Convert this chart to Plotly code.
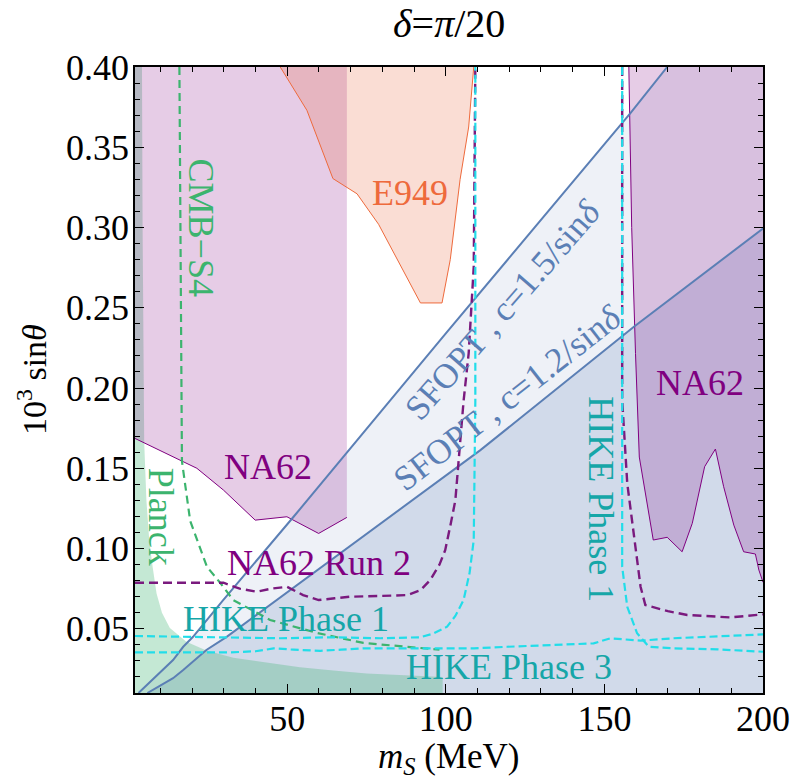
import plotly.graph_objects as go

FONT = "Liberation Serif"

# ---- data (m_S in MeV, 10^3 sin(theta)) ----
# SFOPT boundaries
sfopt15_m = [3.1, 9.8, 14.0, 17.2, 20.3, 29.8, 52.0, 100.0, 158.2, 169.8]
sfopt15_s = [0.010, 0.0223, 0.0305, 0.0388, 0.045, 0.0679, 0.1198, 0.234, 0.3713, 0.40]
sfopt12_m = [5.9, 14.0, 17.2, 24.5, 30.9, 46.6, 80.0, 110.9, 159.2, 200.0]
sfopt12_s = [0.010, 0.0192, 0.0243, 0.0368, 0.045, 0.0679, 0.1163, 0.1613, 0.238, 0.2994]

# Planck excluded region boundary
planck_m = [4.2, 4.4, 4.6, 4.9, 5.6, 6.5, 7.6, 8.8, 10.5, 13.0, 18.2, 24.5, 33.0, 43.5,
            54.0, 64.5, 75.0, 87.0, 99.0, 99.0]
planck_s = [0.40, 0.30, 0.22, 0.166, 0.13, 0.105, 0.088, 0.072, 0.060, 0.0505, 0.042, 0.0365,
            0.032, 0.0288, 0.026, 0.024, 0.0222, 0.021, 0.020, 0.010]

# NA62 excluded regions
na62a_m = [2.0, 17.3, 21.5, 29.9, 39.9, 49.9, 59.9, 68.8]
na62a_s = [0.1686, 0.154, 0.150, 0.1364, 0.1177, 0.1198, 0.1094, 0.1194]
na62a_mmax = 68.8
na62b_m = [157.7, 158.6, 159.8, 160.3, 161.0, 165.4, 169.8, 174.5, 177.7, 181.6, 185.0,
           187.6, 190.8, 193.9, 197.6, 198.7, 200.0]
na62b_s = [0.40, 0.30, 0.2215, 0.192, 0.157, 0.1053, 0.107, 0.098, 0.1157, 0.151, 0.162,
           0.1385, 0.1146, 0.098, 0.0966, 0.0866, 0.079]

# E949 excluded region
e949_m = [47.8, 56.2, 64.4, 72.0, 78.8, 92.0, 98.8, 101.4, 104.5, 107.2, 108.8]
e949_s = [0.40, 0.373, 0.3305, 0.321, 0.302, 0.253, 0.253, 0.280, 0.330, 0.3626, 0.40]

# Projected sensitivities
cmbs4_m = [16.0, 16.5, 16.8, 19.4, 24.7, 28.9, 33.0, 44.6, 59.4, 74.0, 87.0, 95.1, 98.0]
cmbs4_s = [0.40, 0.25, 0.1544, 0.1172, 0.0886, 0.0785, 0.0679, 0.0555, 0.0474, 0.0412,
           0.039, 0.0374, 0.037]

run2_m = [2.0, 29.9, 35.0, 40.4, 45.0, 49.9, 55.0, 59.9, 65.0, 69.9, 80.0, 87.8, 92.0, 95.1,
          98.0, 99.8, 101.5, 103.0, 105.6, 107.2, 108.8, 109.3, None,
          155.6, 155.6, 157.2, 159.2, 161.4, 162.9, 170.0, 176.1, 189.7, 200.0]
run2_s = [0.0787, 0.0787, 0.075, 0.0731, 0.075, 0.0762, 0.071, 0.0679, 0.069, 0.070, 0.0705,
          0.071, 0.074, 0.0804, 0.09, 0.099, 0.115, 0.130, 0.192, 0.2215, 0.2755, 0.40, None,
          0.40, 0.1924, 0.1406, 0.1094, 0.0762, 0.0648, 0.061, 0.0586, 0.0571, 0.059]

hike1_m = [2.0, 16.2, 32.0, 47.8, 63.6, 79.4, 91.9, 96.0, 100.4, 103.0, 105.6, 107.5, 108.8,
           109.3, 109.3, None,
           155.6, 155.6, 157.2, 160.3, 164.0, 171.9, 185.6, 200.0]
hike1_s = [0.0455, 0.0451, 0.0447, 0.0441, 0.0447, 0.0441, 0.0447, 0.047, 0.0513, 0.058,
           0.0679, 0.085, 0.1053, 0.192, 0.40, None,
           0.40, 0.0886, 0.0637, 0.0472, 0.0388, 0.0378, 0.0372, 0.0357]

hike3_m = [2.0, 16.2, 32.0, 40.0, 45.7, 52.0, 60.4, 67.0, 74.0, 84.6, 98.3, 108.8, 119.3,
           135.1, 146.6, 151.9, 161.4, 171.9, 182.4, 200.0]
hike3_s = [0.0353, 0.0353, 0.0353, 0.036, 0.0378, 0.037, 0.0363, 0.037, 0.0378, 0.0378,
           0.0378, 0.0378, 0.0388, 0.0399, 0.0409, 0.0441, 0.0426, 0.0441, 0.045, 0.0465]

XMIN, XMAX = 2.0, 200.0
YMIN, YMAX = 0.01, 0.40

# ---- colours ----
BLUE = "#5b7fb5"
BLUE_RGB = "86,120,180"
PURPLE = "#800080"
GREEN = "#3cb46e"
ORANGE = "#ee6a3c"
CYAN = "#22dde9"
TEAL = "#16a6a8"

fig = go.Figure()


def fill(xs, ys, color):
    fig.add_trace(go.Scatter(x=xs, y=ys, mode="lines", fill="toself", fillcolor=color,
                             line=dict(width=0), hoverinfo="skip"))


def line(xs, ys, color, width=1.0, dash=None):
    fig.add_trace(go.Scatter(x=xs, y=ys, mode="lines", connectgaps=False,
                             line=dict(color=color, width=width, dash=dash),
                             hoverinfo="skip"))


# SFOPT bands (below each line)
fill(sfopt15_m + [XMAX, XMAX], sfopt15_s + [YMAX, YMIN], f"rgba({BLUE_RGB},0.10)")
fill(sfopt12_m + [XMAX], sfopt12_s + [YMIN], f"rgba({BLUE_RGB},0.19)")

# Planck
fill([XMIN] + planck_m + [XMIN], [YMAX] + planck_s + [YMIN], "rgba(60,179,113,0.30)")

# NA62
fill(na62a_m + [na62a_mmax, XMIN], na62a_s + [YMAX, YMAX], "rgba(128,0,128,0.20)")
fill(na62b_m + [XMAX], na62b_s + [YMAX], "rgba(128,0,128,0.20)")

# E949
fill(e949_m, e949_s, "rgba(232,100,60,0.22)")

# boundaries
line(na62a_m, na62a_s, PURPLE, 1.0)
line(na62b_m, na62b_s, PURPLE, 1.0)
line(e949_m, e949_s, ORANGE, 1.0)
line(sfopt15_m, sfopt15_s, BLUE, 2.0)
line(sfopt12_m, sfopt12_s, BLUE, 2.0)

# projections
line(cmbs4_m, cmbs4_s, GREEN, 2.2, "8px,5px")
line(run2_m, run2_s, "#7a1a7e", 2.4, "9px,5px")
line(hike3_m, hike3_s, CYAN, 2.2, "8px,4px")
line(hike1_m, hike1_s, CYAN, 2.2, "8px,4px")

LBL = 36


def label(x, y, text, color, angle=0, size=LBL):
    fig.add_annotation(x=x, y=y, xref="x", yref="y", text=text, showarrow=False,
                       textangle=angle, xanchor="center", yanchor="middle",
                       font=dict(family=FONT, size=size, color=color))


label(23.1, 0.300, "CMB−S4", GREEN, 90)
label(10.2, 0.1198, "Planck", GREEN, 90)
label(88.8, 0.3213, "E949", ORANGE)
label(43.8, 0.1509, "NA62", PURPLE)
label(180.0, 0.203, "NA62", PURPLE)
label(60.1, 0.0908, "NA62 Run 2", PURPLE)
label(49.6, 0.0561, "HIKE Phase 1", TEAL)
label(120.0, 0.0259, "HIKE Phase 3", TEAL)
label(149.0, 0.1305, "HIKE Phase 1", TEAL, 90)
label(117.8, 0.2485, "SFOPT , c=1.5/sin<i>δ</i>", BLUE, -49, 35)
label(119.3, 0.1935, "SFOPT , c=1.2/sin<i>δ</i>", BLUE, -38, 35)

# title and axis titles
fig.add_annotation(x=0.5, y=1.070, xref="paper", yref="paper", showarrow=False,
                   text="<i>δ</i>=<i>π</i>/20", xanchor="center", yanchor="middle",
                   font=dict(family=FONT, size=40, color="black"))
fig.add_annotation(x=0.5, y=-0.104, xref="paper", yref="paper", showarrow=False,
                   text="<i>m<sub>S</sub></i> (MeV)", xanchor="center", yanchor="middle",
                   font=dict(family=FONT, size=35, color="black"))
fig.add_annotation(x=-0.164, y=0.50, xref="paper", yref="paper", showarrow=False,
                   text="10<sup>3</sup> sin<i>θ</i>", textangle=-90,
                   xanchor="center", yanchor="middle",
                   font=dict(family=FONT, size=34, color="black"))

axis_common = dict(showline=True, linecolor="black", linewidth=1.5, mirror="allticks",
                   ticks="inside", ticklen=9, tickwidth=1.3, tickcolor="black",
                   showgrid=False, zeroline=False, automargin=False,
                   tickfont=dict(family=FONT, size=36, color="black"))

fig.update_layout(
    width=792, height=780,
    margin=dict(l=135, r=29, t=67, b=87),
    paper_bgcolor="white", plot_bgcolor="white",
    showlegend=False,
    xaxis=dict(range=[XMIN, XMAX], tick0=0, dtick=50, ticklabelstandoff=-7,
               minor=dict(ticks="inside", ticklen=5, tickwidth=1, tickcolor="black",
                          tick0=0, dtick=10, showgrid=False),
               **axis_common),
    yaxis=dict(range=[YMIN, YMAX], tick0=0, dtick=0.05, tickformat=".2f",
               ticklabelstandoff=-3,
               minor=dict(ticks="inside", ticklen=5, tickwidth=1, tickcolor="black",
                          tick0=0, dtick=0.01, showgrid=False),
               **axis_common),
)

fig.write_html("out.html")
